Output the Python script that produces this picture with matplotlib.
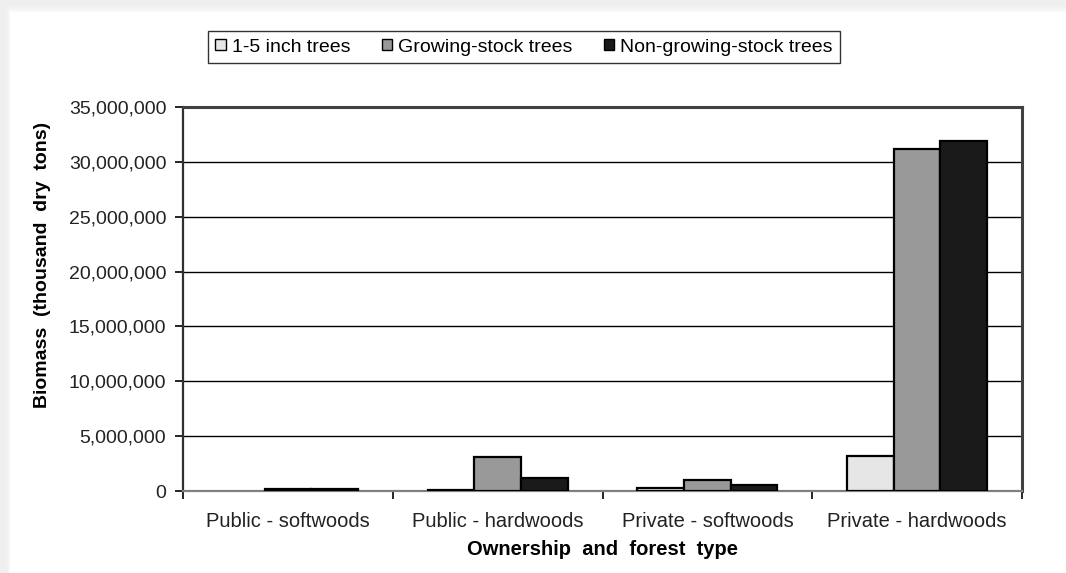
import matplotlib
matplotlib.use('Agg')
import matplotlib.pyplot as plt
import numpy as np
from matplotlib.ticker import FuncFormatter, MultipleLocator, FixedLocator, NullFormatter

plt.rcParams['font.family'] = ['Liberation Sans', 'DejaVu Sans']

categories = ["Public - softwoods", "Public - hardwoods",
              "Private - softwoods", "Private - hardwoods"]
series = ["1-5 inch trees", "Growing-stock trees", "Non-growing-stock trees"]
small_trees = [0, 120000, 300000, 3150000]
growing_stock = [150000, 3120000, 1030000, 31150000]
non_growing_stock = [160000, 1210000, 520000, 31900000]
colors = ["#e6e6e6", "#999999", "#1a1a1a"]

W, H = 1066, 573
fig = plt.figure(figsize=(W / 100, H / 100), dpi=100)
fig.patch.set_facecolor("#efefef")
# white card with a soft grey margin along the top and left edges
for i, c in enumerate(["#f2f2f2", "#f5f5f5", "#f9f9f9", "#ffffff"]):
    fig.patches.append(plt.Rectangle(((7 + i) / W, 0), 1, (567 - 2 * i) / H,
                                     transform=fig.transFigure, facecolor=c,
                                     edgecolor='none', zorder=-10 + i))

ax = fig.add_axes([183 / W, 1 - 491 / H, 839 / W, 384 / H])
x = np.arange(len(categories))
width = 1 / 4.5
for j, vals in enumerate([small_trees, growing_stock, non_growing_stock]):
    bars = ax.bar(x + (j - 1) * width, vals, width=width, color=colors[j],
                  edgecolor='black', linewidth=1.6, label=series[j], zorder=3)
    for b in bars:
        if b.get_height() == 0:
            b.set_linewidth(0)

ax.set_xlim(-0.5, len(categories) - 0.5)
ax.set_ylim(0, 35000000)
ax.yaxis.set_major_locator(MultipleLocator(5000000))
ax.yaxis.set_major_formatter(FuncFormatter(lambda v, p: "{:,.0f}".format(v)))
ax.yaxis.grid(True, color='black', linewidth=1.0, zorder=1)

ax.set_xticks(x)
ax.set_xticklabels(categories, fontsize=14.5, color='#222222')
ax.tick_params(axis='x', which='major', length=0, pad=15)
ax.xaxis.set_minor_locator(FixedLocator(np.arange(len(categories) + 1) - 0.5))
ax.xaxis.set_minor_formatter(NullFormatter())
ax.tick_params(axis='x', which='minor', length=6, width=1.2, color='black')
ax.tick_params(axis='y', length=6, width=1.2, color='black',
               labelsize=14, labelcolor='#222222', pad=6)

for side in ['top', 'right']:
    ax.spines[side].set_color('#404040')
    ax.spines[side].set_linewidth(2.2)
ax.spines['left'].set_color('#303030')
ax.spines['left'].set_linewidth(1.6)
ax.spines['bottom'].set_color('#808080')
ax.spines['bottom'].set_linewidth(1.6)

ax.set_ylabel("Biomass  (thousand  dry  tons)", fontsize=14,
              fontweight='bold')
ax.yaxis.set_label_coords(-0.157, 0.588)
ax.set_xlabel("Ownership  and  forest  type", fontsize=14.5,
              fontweight='bold')
ax.xaxis.set_label_coords(0.5, -0.127)

leg = ax.legend(loc='center', bbox_to_anchor=(524 / W, 1 - 47 / H),
                bbox_transform=fig.transFigure, ncol=3, fontsize=14,
                frameon=True, fancybox=False, edgecolor='black',
                handlelength=0.55, handleheight=0.55, handletextpad=0.3,
                columnspacing=1.6, borderpad=0.4, borderaxespad=0)
leg.get_frame().set_linewidth(1.0)
for h in leg.legend_handles:
    h.set_linewidth(1.0)

fig.savefig("out.png", dpi=100, facecolor=fig.get_facecolor())
